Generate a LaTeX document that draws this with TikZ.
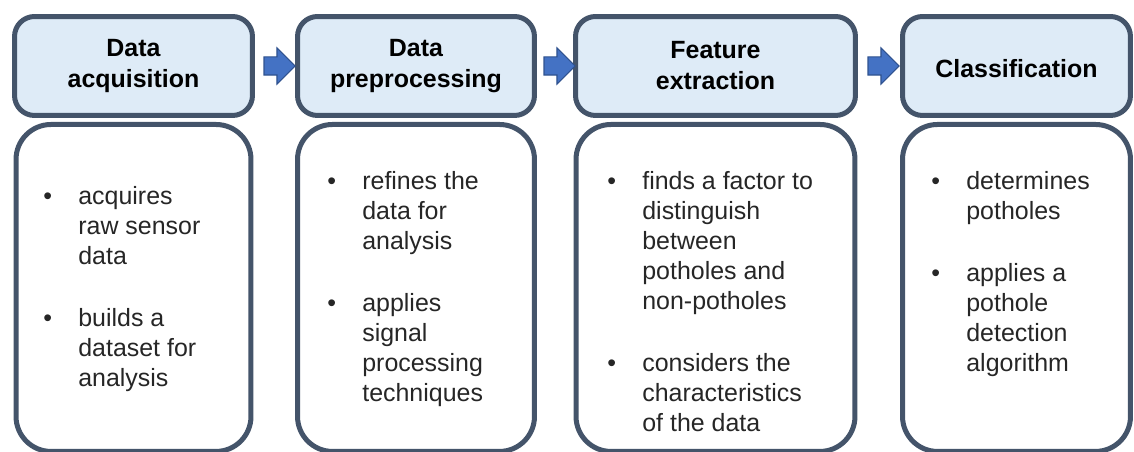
\documentclass[tikz,border=0pt]{standalone}
\usepackage{fontspec}
\setmainfont{Liberation Sans}
\usetikzlibrary{positioning, calc, shapes.arrows}

\definecolor{frameslate}{HTML}{44546A}
\definecolor{headfill}{HTML}{DEEBF7}
\definecolor{arrowblue}{HTML}{4472C4}
\definecolor{arrowedge}{HTML}{2F528F}

\tikzset{
    headbox/.style={draw=frameslate, fill=headfill, line width=0.1cm,
        rounded corners=0.4cm, minimum height=1.98cm, inner sep=0pt,
        align=center, font=\fontsize{14.2}{17.6}\selectfont\bfseries,
        execute at begin node={\rule{0pt}{13.2pt}}},
    bodybox/.style={draw=frameslate, fill=white, line width=0.1cm,
        rounded corners=0.7cm, minimum height=6.54cm, inner sep=0pt},
    itemtext/.style={anchor=base west, inner sep=0pt, text=black!85,
        font=\fontsize{14.2}{17.07}\selectfont},
    flowarrow/.style={single arrow, draw=arrowedge, fill=arrowblue,
        line width=0.6pt, inner xsep=0pt, inner ysep=0.17cm,
        minimum height=0.62cm, single arrow head extend=0.18cm}
}

\begin{document}
\begin{tikzpicture}[x=0.02cm, y=-0.02cm]
    \useasboundingbox (0,0) rectangle (1134,452);

    % Kopfzeilen
    \node[headbox, minimum width=4.76cm] (h1) at (133.5,66) {Data\\acquisition};
    \node[headbox, minimum width=4.74cm] (h2) at (416,66) {Data\\preprocessing};
    \node[headbox, minimum width=5.6cm]  (h3) at (715.5,66) {Feature\\extraction};
    \node[headbox, minimum width=4.56cm] (h4) at (1016.5,66) {Classification};

    % Inhaltskaesten
    \node[bodybox, minimum width=4.70cm, below=0.08cm of h1] (b1) {};
    \node[bodybox, minimum width=4.74cm, below=0.08cm of h2] (b2) {};
    \node[bodybox, minimum width=5.58cm, below=0.08cm of h3] (b3) {};
    \node[bodybox, minimum width=4.56cm, below=0.08cm of h4] (b4) {};

    % Pfeile zwischen den Schritten
    \foreach \a/\b/\n in {h1/h2/1, h2/h3/2, h3/h4/3}
        \node[flowarrow] (a\n) at ($(\a.east)!0.5!(\b.west)$) {};

    % Stichpunkte
    \node[itemtext] (t1) at (43,205) {\begin{tabular}[t]{@{}p{0.7cm}@{}l@{}}
        \textbullet & acquires\\
                    & raw sensor\\
                    & data\\[0.64cm]
        \textbullet & builds a\\
                    & dataset for\\
                    & analysis
    \end{tabular}};
    \node[itemtext] (t2) at (327,190) {\begin{tabular}[t]{@{}p{0.7cm}@{}l@{}}
        \textbullet & refines the\\
                    & data for\\
                    & analysis\\[0.64cm]
        \textbullet & applies\\
                    & signal\\
                    & processing\\
                    & techniques
    \end{tabular}};
    \node[itemtext] (t3) at (607,190) {\begin{tabular}[t]{@{}p{0.7cm}@{}l@{}}
        \textbullet & finds a factor to\\
                    & distinguish\\
                    & between\\
                    & potholes and\\
                    & non-potholes\\[0.64cm]
        \textbullet & considers the\\
                    & characteristics\\
                    & of the data
    \end{tabular}};
    \node[itemtext] (t4) at (931,190) {\begin{tabular}[t]{@{}p{0.7cm}@{}l@{}}
        \textbullet & determines\\
                    & potholes\\[0.64cm]
        \textbullet & applies a\\
                    & pothole\\
                    & detection\\
                    & algorithm
    \end{tabular}};
\end{tikzpicture}
\end{document}
